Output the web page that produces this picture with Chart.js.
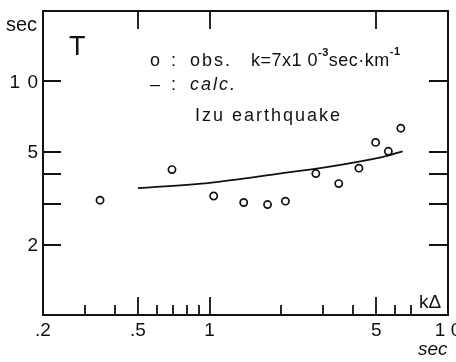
<!DOCTYPE html>
<html>
<head>
<meta charset="utf-8">
<script src="https://cdn.jsdelivr.net/npm/chart.js@4.4.1/dist/chart.umd.min.js"></script>
<style>
  html, body { margin: 0; padding: 0; background: #fff; }
  .chart { width: 456px; height: 362px; }
</style>
</head>
<body>
<div class="chart"><canvas id="tChart" width="456" height="362"></canvas></div>
<script>
// observed periods T (sec) vs k*Delta (sec), Izu earthquake
const obsX = [0.347, 0.695, 1.04, 1.39, 1.75, 2.08, 2.79, 3.48, 4.23, 4.97, 5.62, 6.34];
const obsY = [3.10, 4.19, 3.23, 3.03, 2.97, 3.07, 4.03, 3.65, 4.25, 5.48, 5.02, 6.30];

// calculated curve
const calcX = [0.5, 1, 2, 3, 5.3, 6.45];
const calcY = [3.49, 3.68, 4.04, 4.27, 4.74, 5.02];

// axis ticks and labels
const xMajor = [0.5, 1, 5];
const xMinor = [0.3, 0.4, 0.6, 0.7, 0.8, 0.9, 2, 3, 4, 6, 7];
const xLabelValues = [0.2, 0.5, 1, 5, 10];
const xLabelTexts = ['.2', '.5', '1', '5', '1 0'];
const yTickValues = [2, 3, 4, 5, 10];
const yLabelValues = [2, 5, 10];
const yLabelTexts = ['2', '5', '1 0'];

const FONT = '"Liberation Sans", Arial, sans-serif';

const toPoints = (xs, ys) => xs.map((x, i) => ({ x: x, y: ys[i] }));

// draws pieces one after the other: [text, font, dy]
const drawRun = (c, x, y, pieces) => {
  pieces.forEach(p => {
    c.font = p[1];
    c.fillText(p[0], x, y + (p[2] || 0));
    x += c.measureText(p[0]).width;
  });
};

const axesPlugin = {
  id: 'axesPlugin',
  afterDraw(chart) {
    const c = chart.ctx;
    const a = chart.chartArea;
    const xs = chart.scales.x;
    const ys = chart.scales.y;
    c.save();
    c.strokeStyle = '#111';
    c.fillStyle = '#111';
    c.lineWidth = 2;
    c.strokeRect(a.left, a.top, a.right - a.left, a.bottom - a.top);

    // x ticks, bottom and top
    c.lineWidth = 1.8;
    c.beginPath();
    xMajor.forEach(v => {
      const px = Math.round(xs.getPixelForValue(v));
      c.moveTo(px, a.bottom); c.lineTo(px, a.bottom - 18);
      c.moveTo(px, a.top); c.lineTo(px, a.top + 18);
    });
    xMinor.forEach(v => {
      const px = Math.round(xs.getPixelForValue(v));
      c.moveTo(px, a.bottom); c.lineTo(px, a.bottom - 10);
    });
    // y ticks, left and right
    yTickValues.forEach(v => {
      const py = Math.round(ys.getPixelForValue(v));
      c.moveTo(a.left, py); c.lineTo(a.left + 18, py);
      c.moveTo(a.right, py); c.lineTo(a.right - 19, py);
    });
    c.stroke();

    // tick labels
    c.font = '19px ' + FONT;
    c.textAlign = 'center';
    c.textBaseline = 'alphabetic';
    xLabelValues.forEach((v, i) => {
      c.fillText(xLabelTexts[i], xs.getPixelForValue(v), 336);
    });
    c.textAlign = 'right';
    c.textBaseline = 'middle';
    c.letterSpacing = '1px';
    yLabelValues.forEach((v, i) => {
      c.fillText(yLabelTexts[i], a.left - 4, ys.getPixelForValue(v) + 1);
    });
    c.letterSpacing = '0px';

    // axis titles
    c.textBaseline = 'alphabetic';
    c.textAlign = 'left';
    c.font = '20px ' + FONT;
    c.fillText('sec', 6, 31);
    c.font = '27px ' + FONT;
    c.fillText('T', 69, 55);
    c.font = '19px ' + FONT;
    c.fillText('k\u0394', 419, 308);
    c.font = 'italic 19px ' + FONT;
    c.fillText('sec', 418, 355);

    // legend text
    const f = '18px ' + FONT;
    const fs = 'bold 11px ' + FONT;
    c.letterSpacing = '2px';
    c.font = f;
    c.fillText('o', 150, 66);
    c.fillText(':', 171, 66);
    c.fillText('obs.', 190, 66);
    c.letterSpacing = '0.5px';
    drawRun(c, 251, 66, [
      ['k=7x1 0', f],
      ['-3', fs, -10],
      ['sec\u00b7km', f],
      ['-1', fs, -11],
    ]);
    c.letterSpacing = '2px';
    c.font = f;
    c.fillText('\u2013', 150, 90);
    c.fillText(':', 171, 90);
    c.font = 'italic ' + f;
    c.fillText('calc.', 190, 90);
    c.font = f;
    c.fillText('Izu earthquake', 195, 121);
    c.restore();
  }
};

const ctx = document.getElementById('tChart');
const myChart = new Chart(ctx, {
  type: 'scatter',
  data: {
    datasets: [
      {
        label: 'obs.',
        data: toPoints(obsX, obsY),
        pointRadius: 3.6,
        pointBorderWidth: 1.7,
        pointBackgroundColor: '#fff',
        pointBorderColor: '#111',
        order: 0,
      },
      {
        label: 'calc.',
        type: 'line',
        data: toPoints(calcX, calcY),
        borderColor: '#111',
        borderWidth: 1.8,
        pointRadius: 0,
        tension: 0.3,
        fill: false,
        order: 1,
      },
    ],
  },
  options: {
    responsive: false,
    animation: false,
    devicePixelRatio: 1,
    layout: { padding: { left: 43, top: 11, right: 8, bottom: 47 } },
    plugins: { legend: { display: false }, tooltip: { enabled: false } },
    scales: {
      x: { type: 'logarithmic', min: 0.2, max: 10, display: false },
      y: { type: 'logarithmic', min: 1, max: 20, display: false },
    },
  },
  plugins: [axesPlugin],
});
</script>
</body>
</html>
